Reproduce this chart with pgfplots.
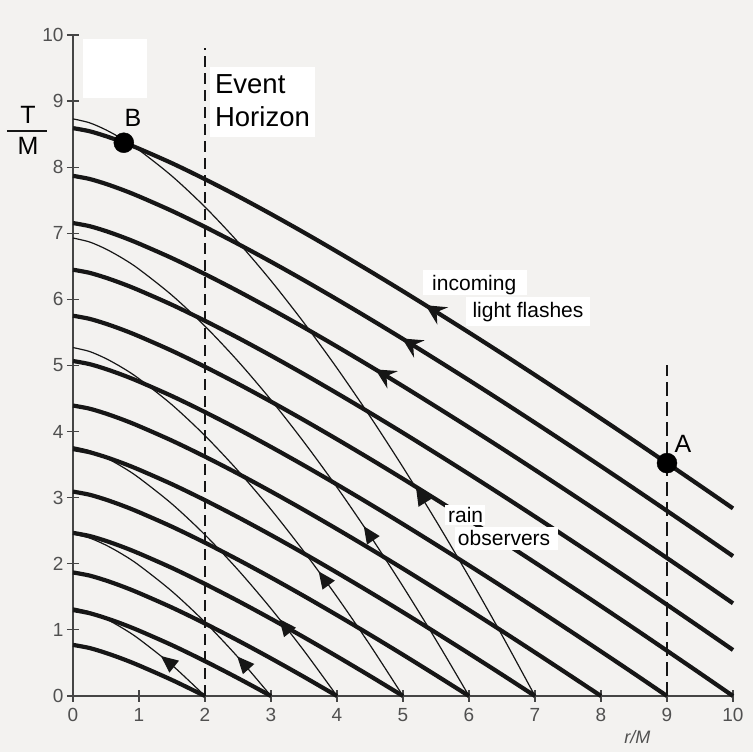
\documentclass[border=0pt]{standalone}
\usepackage{pgfplots}
\pgfplotsset{compat=1.18}
\usepackage{fontspec}
\setmainfont{Liberation Sans}
\usetikzlibrary{arrows.meta,decorations.markings}
\definecolor{bg}{RGB}{243,242,240}
\definecolor{ink}{RGB}{22,22,22}
\begin{document}
\begin{tikzpicture}[x=1pt,y=1pt]
\fill[bg] (-73,-56) rectangle (680,696);
\begin{axis}[
  at={(0pt,0pt)}, anchor=south west,
  scale only axis, width=660pt, height=661pt,
  xmin=0, xmax=10, ymin=0, ymax=10,
  axis x line=bottom, axis y line=left,
  axis line style={-, line width=1.3pt, color=ink!80},
  xtick={0,1,...,10}, ytick={0,1,...,10},
  tick style={line width=1.2pt, color=ink!80},
  major tick length=12pt, tick align=center,
  tick label style={font=\fontsize{19}{19}\selectfont, text=ink!75},
  xticklabel style={yshift=-3pt},
  /pgf/number format/assume math mode=true,
  clip=false,
  thick line/.style={line width=4.2pt, color=ink, smooth},
  thin line/.style={line width=1.2pt, color=ink, smooth},
  thinarr/.style={postaction={decorate}, decoration={markings, mark=at position #1 with {\arrowreversed{Triangle[length=17pt,width=15pt]}}}},
  thickarr/.style={postaction={decorate}, decoration={markings, mark=at position #1 with {\arrowreversed{Stealth[length=20pt,width=20pt,inset=7pt]}}}},
]
% dashed lines
\addplot[line width=1.4pt, color=ink, dash pattern=on 11pt off 6pt] coordinates {(2,0) (2,9.8)};
\addplot[line width=1.4pt, color=ink, dash pattern=on 14pt off 6pt] coordinates {(9,0) (9,5.0)};
% incoming light rays
\addplot[thick line] coordinates {(0,0.773)(0.25,0.726)(0.5,0.651)(0.75,0.562)(1,0.462)(1.5,0.242)(2,0)};
\addplot[thick line] coordinates {(0,1.300)(0.25,1.253)(0.5,1.178)(0.75,1.089)(1,0.989)(1.5,0.769)(2,0.527)(2.5,0.270)(3,0)};
\addplot[thick line] coordinates {(0,1.869)(0.25,1.822)(0.5,1.747)(0.75,1.658)(1,1.558)(1.5,1.338)(2,1.096)(2.5,0.839)(3,0.569)(3.5,0.289)(4,0)};
\addplot[thick line] coordinates {(0,2.468)(0.25,2.421)(0.5,2.346)(0.75,2.257)(1,2.157)(1.5,1.937)(2,1.695)(2.5,1.438)(3,1.168)(3.5,0.888)(4,0.599)(4.5,0.303)(5,0)};
\addplot[thick line] coordinates {(0,3.092)(0.25,3.045)(0.5,2.970)(0.75,2.881)(1,2.781)(1.5,2.561)(2,2.319)(2.5,2.062)(3,1.792)(3.5,1.512)(4,1.223)(4.5,0.927)(5,0.624)(5.5,0.314)(6,0)};
\addplot[thick line] coordinates {(0,3.735)(0.25,3.688)(0.5,3.613)(0.75,3.524)(1,3.424)(1.5,3.204)(2,2.962)(2.5,2.705)(3,2.435)(3.5,2.155)(4,1.866)(4.5,1.570)(5,1.267)(5.5,0.957)(6,0.643)(6.5,0.324)(7,0)};
\addplot[thick line] coordinates {(0,4.394)(0.25,4.347)(0.5,4.272)(0.75,4.183)(1,4.083)(1.5,3.863)(2,3.621)(2.5,3.364)(3,3.094)(3.5,2.814)(4,2.525)(4.5,2.229)(5,1.926)(5.5,1.616)(6,1.302)(6.5,0.983)(7,0.659)(7.5,0.331)(8,0)};
\addplot[thick line] coordinates {(0,5.068)(0.25,5.021)(0.5,4.946)(0.75,4.857)(1,4.757)(1.5,4.537)(2,4.295)(2.5,4.038)(3,3.768)(3.5,3.488)(4,3.199)(4.5,2.903)(5,2.600)(5.5,2.290)(6,1.976)(6.5,1.657)(7,1.333)(7.5,1.005)(8,0.674)(8.5,0.339)(9,0)};
\addplot[thick line] coordinates {(0,5.753)(0.25,5.706)(0.5,5.631)(0.75,5.542)(1,5.442)(1.5,5.222)(2,4.980)(2.5,4.723)(3,4.453)(3.5,4.173)(4,3.884)(4.5,3.588)(5,3.285)(5.5,2.975)(6,2.661)(6.5,2.342)(7,2.018)(7.5,1.690)(8,1.359)(8.5,1.024)(9,0.685)(9.5,0.344)(10,0)};
\addplot[thick line] coordinates {(0,6.449)(0.25,6.402)(0.5,6.327)(0.75,6.238)(1,6.138)(1.5,5.918)(2,5.676)(2.5,5.419)(3,5.149)(3.5,4.869)(4,4.580)(4.5,4.284)(5,3.981)(5.5,3.671)(6,3.357)(6.5,3.038)(7,2.714)(7.5,2.386)(8,2.055)(8.5,1.720)(9,1.381)(9.5,1.040)(10,0.696)};
\addplot[thick line, thickarr=0.441] coordinates {(0,7.155)(0.25,7.108)(0.5,7.033)(0.75,6.944)(1,6.844)(1.5,6.624)(2,6.382)(2.5,6.125)(3,5.855)(3.5,5.575)(4,5.286)(4.5,4.990)(5,4.687)(5.5,4.377)(6,4.063)(6.5,3.744)(7,3.420)(7.5,3.092)(8,2.761)(8.5,2.426)(9,2.087)(9.5,1.746)(10,1.402)};
\addplot[thick line, thickarr=0.482] coordinates {(0,7.869)(0.25,7.822)(0.5,7.747)(0.75,7.658)(1,7.558)(1.5,7.338)(2,7.096)(2.5,6.839)(3,6.569)(3.5,6.289)(4,6.000)(4.5,5.704)(5,5.401)(5.5,5.091)(6,4.777)(6.5,4.458)(7,4.134)(7.5,3.806)(8,3.475)(8.5,3.140)(9,2.801)(9.5,2.460)(10,2.116)};
\addplot[thick line, thickarr=0.518] coordinates {(0,8.591)(0.25,8.544)(0.5,8.469)(0.75,8.380)(1,8.280)(1.5,8.060)(2,7.818)(2.5,7.561)(3,7.291)(3.5,7.011)(4,6.722)(4.5,6.426)(5,6.123)(5.5,5.813)(6,5.499)(6.5,5.180)(7,4.856)(7.5,4.528)(8,4.197)(8.5,3.862)(9,3.523)(9.5,3.182)(10,2.838)};
% rain observers
\addplot[thin line, thinarr=0.63] coordinates {(0,1.333)(0.25,1.274)(0.5,1.166)(0.75,1.027)(1,0.862)(1.5,0.467)(2,0)};
\addplot[thin line, thinarr=0.80] coordinates {(0,2.449)(0.25,2.390)(0.5,2.282)(0.75,2.143)(1,1.978)(1.5,1.583)(2,1.116)(2.5,0.586)(3,0)};
\addplot[thin line, thinarr=0.74] coordinates {(0,3.771)(0.25,3.712)(0.5,3.604)(0.75,3.465)(1,3.300)(1.5,2.905)(2,2.438)(2.5,1.908)(3,1.322)(3.5,0.684)(4,0)};
\addplot[thin line, thinarr=0.692] coordinates {(0,5.271)(0.25,5.212)(0.5,5.104)(0.75,4.965)(1,4.800)(1.5,4.405)(2,3.938)(2.5,3.408)(3,2.822)(3.5,2.184)(4,1.500)(4.5,0.771)(5,0)};
\addplot[thin line, thinarr=0.676] coordinates {(0,6.928)(0.25,6.869)(0.5,6.761)(0.75,6.622)(1,6.457)(1.5,6.062)(2,5.595)(2.5,5.065)(3,4.479)(3.5,3.841)(4,3.157)(4.5,2.428)(5,1.657)(5.5,0.847)(6,0)};
\addplot[thin line, thinarr=0.682] coordinates {(0,8.731)(0.25,8.672)(0.5,8.564)(0.75,8.425)(1,8.260)(1.5,7.865)(2,7.398)(2.5,6.868)(3,6.282)(3.5,5.644)(4,4.960)(4.5,4.231)(5,3.460)(5.5,2.650)(6,1.803)(6.5,0.919)(7,0)};
% white boxes
\fill[white] (axis cs:0.15,9.05) rectangle (axis cs:1.12,9.94);
\fill[white] (axis cs:2.08,8.46) rectangle (axis cs:3.67,9.52);
\fill[white] (axis cs:5.30,6.06) rectangle (axis cs:6.88,6.44);
\fill[white] (axis cs:5.95,5.59) rectangle (axis cs:7.83,6.03);
\fill[white] (axis cs:5.64,2.59) rectangle (axis cs:6.24,2.89);
\fill[white] (axis cs:5.79,2.21) rectangle (axis cs:7.35,2.56);
% texts
\node[anchor=base west, inner sep=0pt, font=\fontsize{27.5}{27.5}\selectfont] at (axis cs:2.15,9.12) {Event};
\node[anchor=base west, inner sep=0pt, font=\fontsize{27.5}{27.5}\selectfont] at (axis cs:2.15,8.62) {Horizon};
\node[anchor=base west, inner sep=0pt, font=\fontsize{21}{21}\selectfont] at (axis cs:5.44,6.14) {incoming};
\node[anchor=base west, inner sep=0pt, font=\fontsize{21}{21}\selectfont] at (axis cs:6.05,5.72) {light flashes};
\node[anchor=base west, inner sep=0pt, font=\fontsize{21}{21}\selectfont] at (axis cs:5.68,2.63) {rain};
\node[anchor=base west, inner sep=0pt, font=\fontsize{21}{21}\selectfont] at (axis cs:5.83,2.28) {observers};
\node[inner sep=0pt, font=\fontsize{25}{25}\selectfont] at (axis cs:0.91,8.74) {B};
\node[inner sep=0pt, font=\fontsize{25}{25}\selectfont] at (axis cs:9.24,3.81) {A};
\node[inner sep=0pt, font=\fontsize{25}{25}\selectfont] at (axis cs:-0.68,8.79) {T};
\node[inner sep=0pt, font=\fontsize{25}{25}\selectfont] at (axis cs:-0.68,8.32) {M};
\draw[line width=1.8pt, ink] (axis cs:-1.0,8.55) -- (axis cs:-0.394,8.55);
\node[inner sep=0pt, font=\fontsize{18}{18}\selectfont\itshape, text=ink!75] at (axis cs:8.55,-0.62) {r/M};
% dots
\addplot[only marks, mark=*, mark size=10pt, color=black] coordinates {(0.77,8.37) (9,3.523)};
\end{axis}
\end{tikzpicture}
\end{document}
